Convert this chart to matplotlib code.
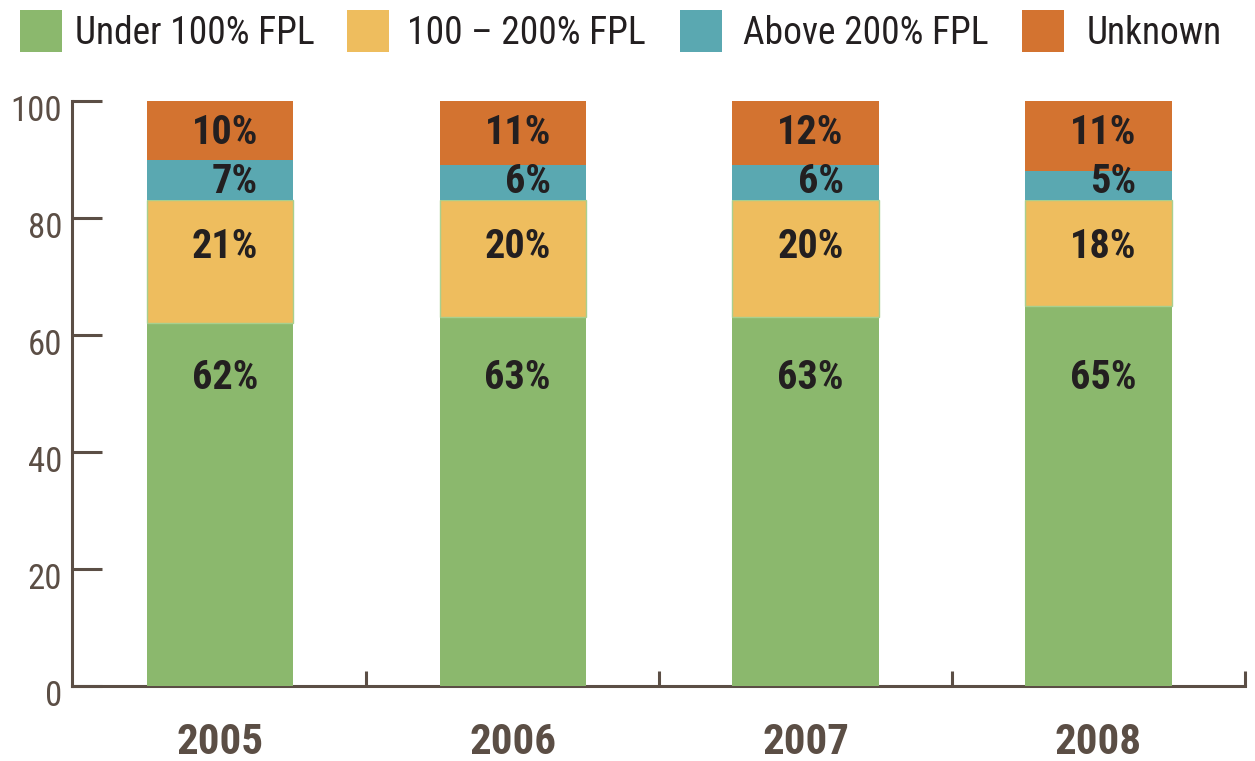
import matplotlib
matplotlib.use("Agg")
import matplotlib.pyplot as plt
from matplotlib import font_manager
from matplotlib.patches import Rectangle
import matplotlib.transforms as mtransforms

# ---- data ----
years = ["2005", "2006", "2007", "2008"]
series_names = ["Under 100% FPL", "100 \u2013 200% FPL", "Above 200% FPL", "Unknown"]
under_100 = [62, 63, 63, 65]
fpl_100_200 = [21, 20, 20, 18]
above_200 = [7, 6, 6, 5]
unknown_drawn = [10, 11, 11, 12]          # segment heights as drawn (bars reach 100)
under_100_lbl = ["62%", "63%", "63%", "65%"]
fpl_100_200_lbl = ["21%", "20%", "20%", "18%"]
above_200_lbl = ["7%", "6%", "6%", "5%"]
unknown_lbl = ["10%", "11%", "12%", "11%"]
y_ticks = [0, 20, 40, 60, 80, 100]

# ---- style ----
colors = ["#8BB86D", "#EEBD5E", "#5AA8B1", "#D37330"]
axis_col = "#5B4E45"
text_dark = "#231F20"

avail = {f.name for f in font_manager.fontManager.ttflist}
for cand in ["Liberation Sans Narrow", "DejaVu Sans Condensed", "Roboto Condensed",
             "Open Sans Condensed", "Liberation Sans", "Open Sans"]:
    if cand in avail:
        FONT = cand
        break
else:
    FONT = "DejaVu Sans"
plt.rcParams["font.family"] = [FONT, "DejaVu Sans"]

W, H = 1255, 761
fig = plt.figure(figsize=(W / 100, H / 100), dpi=100)
ax = fig.add_axes([72 / W, 1 - 686 / H, (1245 - 72) / W, (686 - 101) / H])

x = list(range(len(years)))
bw = 0.5
stack = [under_100, fpl_100_200, above_200, unknown_drawn]
bottom = [0] * len(years)
for i, vals in enumerate(stack):
    ec = "#A9CF8E" if i == 1 else colors[i]
    ax.bar(x, vals, bw, bottom=bottom, color=colors[i], edgecolor=ec,
           linewidth=1.0 if i == 1 else 0, zorder=2)
    bottom = [b + v for b, v in zip(bottom, vals)]

# label rows (fixed heights in the chart)
label_rows = [(under_100_lbl, 52.6), (fpl_100_200_lbl, 75.0),
              (above_200_lbl, 86.2), (unknown_lbl, 94.6)]
for labels, yrow in label_rows:
    for xi, lab in zip(x, labels):
        ax.text(xi + 0.13, yrow, lab, ha="right", va="center", fontsize=29,
                fontweight="bold", color=text_dark, zorder=3)

ax.set_xlim(-0.505, 3.5)
ax.set_ylim(0, 100)
for s in ["top", "right"]:
    ax.spines[s].set_visible(False)
for s in ["left", "bottom"]:
    ax.spines[s].set_color(axis_col)
    ax.spines[s].set_linewidth(2.2)
    ax.spines[s].set_zorder(1)

ax.set_yticks(y_ticks)
ax.set_yticklabels([str(t) for t in y_ticks])
ax.tick_params(axis="y", direction="in", length=21.5, width=2.2, color=axis_col,
               labelsize=25, labelcolor=axis_col, pad=7)
ax.yaxis.set_zorder(3)
ax.yaxis.get_major_ticks()[0].tick1line.set_color(colors[0])
off = mtransforms.ScaledTranslation(0, -7 / 100, fig.dpi_scale_trans)
for lab in ax.get_yticklabels():
    lab.set_transform(lab.get_transform() + off)

# x: ticks at category boundaries, labels at centres
ax.set_xticks([0.5, 1.5, 2.5, 3.5])
ax.set_xticklabels([])
ax.tick_params(axis="x", direction="in", length=11, width=2.2, color=axis_col)
for xi, yr in zip(x, years):
    ax.annotate(yr, xy=(xi, 0), xycoords="data", xytext=(0, -57 * 0.72),
                textcoords="offset points", ha="center", va="center",
                fontsize=31, fontweight="bold", color=axis_col)

# legend (manual, top row)
sq_x = [20, 347, 680, 1022]
tx_x = [75, 407, 743, 1087]
for c, name, sx, tx in zip(colors, series_names, sq_x, tx_x):
    fig.patches.append(Rectangle((sx / W, 1 - 52 / H), 42 / W, 42 / H,
                                 transform=fig.transFigure, color=c, lw=0))
    fig.text(tx / W, 1 - 33 / H, name, ha="left", va="center", fontsize=27,
             color=text_dark)

fig.savefig("out.png", dpi=100)
